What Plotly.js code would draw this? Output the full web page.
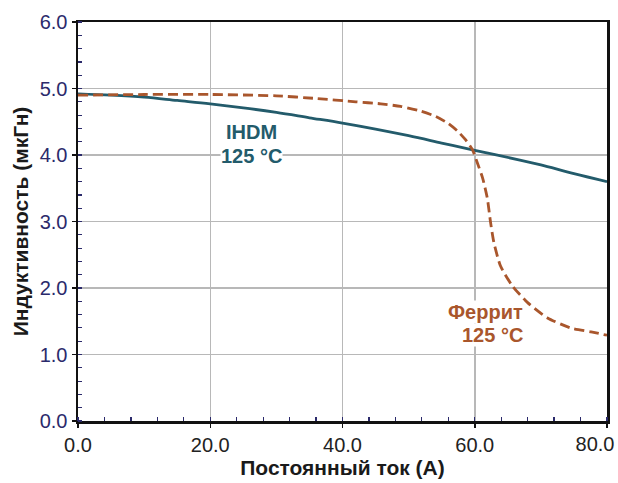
<!DOCTYPE html>
<html><head><meta charset="utf-8">
<script src="https://cdn.plot.ly/plotly-3.0.1.min.js"></script>
<style>html,body{margin:0;padding:0;background:#fff}#chart{width:618px;height:483px}</style>
</head><body><div id="chart"></div>
<script>
const ihdmX = [0, 5, 10, 15, 20, 25, 30, 35, 40, 45, 50, 55, 60, 67, 70, 75, 80];
const ihdmY = [4.92, 4.90, 4.87, 4.82, 4.77, 4.71, 4.64, 4.56, 4.48, 4.39, 4.29, 4.18, 4.07, 3.92, 3.85, 3.72, 3.60];
const ferrX = [0, 10, 20, 30, 36, 42, 45.8, 48.8, 51.8, 54.1, 55.9, 57.4, 58.6, 59.65, 60.4, 61.2, 61.9, 62.4, 62.9, 63.9, 65.7, 68.0, 71.0, 74.5, 77.6, 80];
const ferrY = [4.90, 4.91, 4.91, 4.89, 4.85, 4.80, 4.77, 4.73, 4.66, 4.58, 4.48, 4.36, 4.23, 4.08, 3.88, 3.65, 3.35, 2.98, 2.68, 2.33, 2.03, 1.78, 1.55, 1.40, 1.34, 1.29];
const xTicks = [0, 20, 40, 60, 80];
const xTickText = ['0.0', '20.0', '40.0', '60.0', '80.0'];
const yTicks = [0, 1, 2, 3, 4, 5, 6];
const yTickText = ['0.0', '1.0', '2.0', '3.0', '4.0', '5.0', '6.0'];
const labelIhdm = ['IHDM', '125 °C'];
const labelFerr = ['Феррит', '125 °C'];
const xTitle = 'Постоянный ток (А)';
const yTitle = 'Индуктивность (мкГн)';

const cIhdm = '#235b6b';
const cFerr = '#a9562c';
const nMain = xTicks.length - 1;

const data = [
  {x: ihdmX, y: ihdmY, mode: 'lines', line: {color: cIhdm, width: 2.8, shape: 'spline'}, hoverinfo: 'skip'},
  {x: ferrX, y: ferrY, mode: 'lines', line: {color: cFerr, width: 2.8, dash: '10px,5px', shape: 'spline', smoothing: 0.6}, hoverinfo: 'skip'},
  {x: xTicks.slice(nMain), y: [null], xaxis: 'x2', yaxis: 'y', mode: 'markers', marker: {opacity: 0}, hoverinfo: 'skip'}
];
const font = 'Liberation Sans, Arial, sans-serif';
const annFont = (c) => ({size: 20, color: c, family: font, weight: 'bold'});
const layout = {
  width: 618, height: 483,
  margin: {l: 78, r: 11, t: 22, b: 61.5},
  paper_bgcolor: '#fff', plot_bgcolor: '#fff',
  showlegend: false,
  font: {family: font},
  xaxis: {
    range: [0, 80], tickvals: xTicks, ticktext: xTickText.slice(0, nMain).concat(['']),
    tickfont: {size: 20, color: '#222', family: font},
    showgrid: true, gridcolor: '#b8b8b8', gridwidth: 1.5,
    zeroline: false, showline: true, linecolor: '#111', linewidth: 2.5, mirror: true,
    ticks: 'outside', ticklen: 4, tickcolor: '#111', tickwidth: 1.5,
    minor: {dtick: 4, ticks: 'inside', ticklen: 4, tickcolor: '#2b2a6b', tickwidth: 1.2, showgrid: false},
    title: {text: xTitle, font: {size: 21, color: '#1a1a1a', family: font, weight: 'bold'}, standoff: 6},
    fixedrange: true
  },
  xaxis2: {
    overlaying: 'x', anchor: 'y', side: 'bottom', range: [0, 80],
    tickmode: 'array', tickvals: xTicks.slice(nMain), ticktext: xTickText.slice(nMain),
    tickfont: {size: 20, color: '#222', family: font},
    ticklabelshift: -12, ticklabelstandoff: 9, ticklabeloverflow: 'allow',
    showgrid: false, zeroline: false, showline: false, ticks: '', showticklabels: true, fixedrange: true
  },
  yaxis: {
    range: [0, 6], tickvals: yTicks, ticktext: yTickText,
    tickfont: {size: 20, color: '#2b2a6b', family: font},
    showgrid: true, gridcolor: '#b8b8b8', gridwidth: 1.5,
    zeroline: false, showline: true, linecolor: '#111', linewidth: 2.5, mirror: true,
    ticks: 'outside', ticklen: 4, tickcolor: '#111', tickwidth: 1.5,
    minor: {dtick: 0.2, ticks: 'inside', ticklen: 4, tickcolor: '#2b2a6b', tickwidth: 1.2, showgrid: false},
    title: {text: yTitle, font: {size: 21, color: '#1a1a1a', family: font, weight: 'bold'}, standoff: 6},
    fixedrange: true
  },
  annotations: [
    {x: 26.2, y: 4.346, xref: 'x', yref: 'y', text: labelIhdm[0], showarrow: false, font: annFont(cIhdm), bgcolor: '#fff', borderpad: 0},
    {x: 26.2, y: 3.992, xref: 'x', yref: 'y', text: labelIhdm[1], showarrow: false, font: annFont(cIhdm), bgcolor: '#fff', borderpad: 0},
    {x: 67.4, y: 1.639, xref: 'x', yref: 'y', xanchor: 'right', text: labelFerr[0], showarrow: false, font: annFont(cFerr), bgcolor: '#fff', borderpad: 0},
    {x: 67.4, y: 1.286, xref: 'x', yref: 'y', xanchor: 'right', text: labelFerr[1], showarrow: false, font: annFont(cFerr), bgcolor: '#fff', borderpad: 0}
  ]
};
Plotly.newPlot('chart', data, layout, {displayModeBar: false, staticPlot: true});
</script>
</body></html>
